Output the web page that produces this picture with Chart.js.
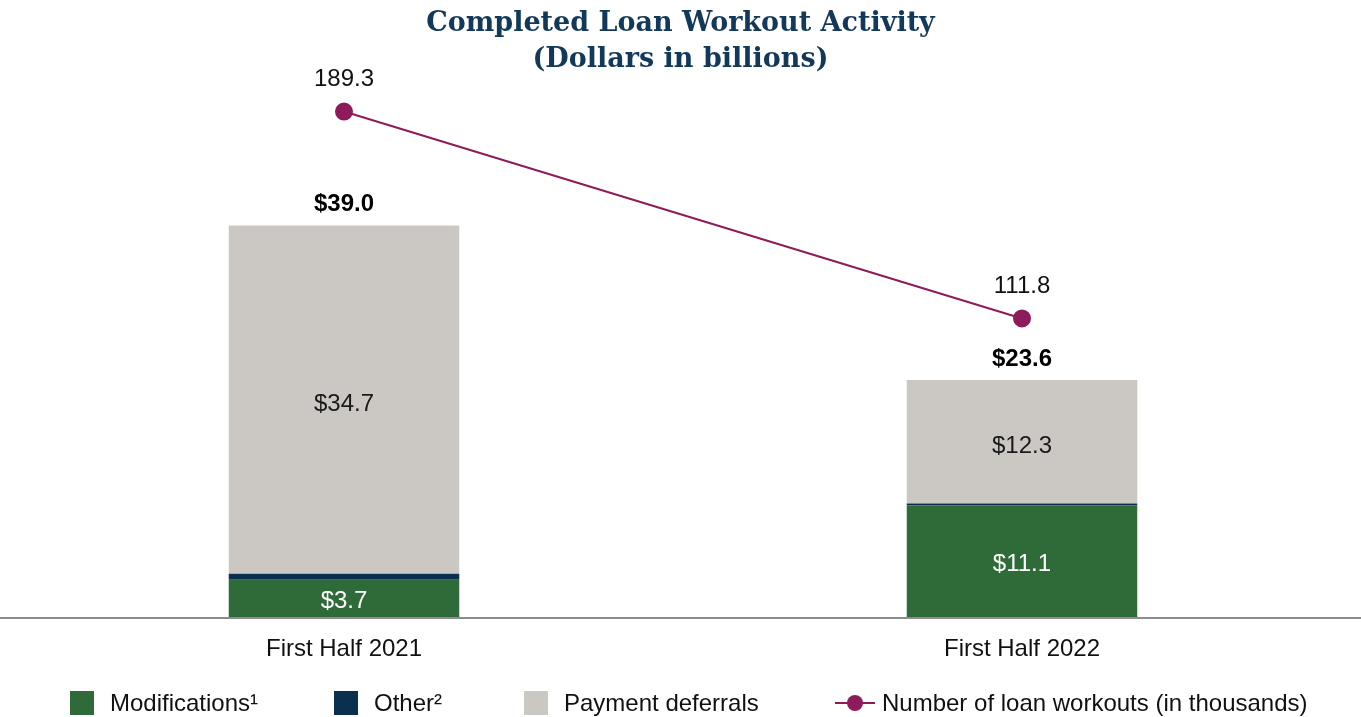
<!DOCTYPE html>
<html lang="en">
<head>
    <meta charset="UTF-8">
    <title>Completed Loan Workout Activity</title>
    <script src="https://cdn.jsdelivr.net/npm/chart.js"></script>
    <style>
        * {
            box-sizing: border-box;
        }
        body {
            margin: 0;
            font-family: "Liberation Sans", Arial, sans-serif;
            background: white;
        }
        .page {
            position: relative;
            width: 1361px;
            height: 717px;
        }
        .title {
            position: absolute;
            top: 4px;
            left: 0;
            width: 100%;
            text-align: center;
            font-family: "DejaVu Serif", Georgia, serif;
            font-weight: bold;
            font-size: 27px;
            line-height: 36px;
            color: #12385a;
        }
        .chart-box {
            position: absolute;
            top: 0;
            left: 0;
            width: 1361px;
            height: 717px;
        }
        .legend-item {
            position: absolute;
            top: 691px;
            height: 24px;
            display: flex;
            align-items: center;
            font-size: 24px;
            color: #111;
        }
        .swatch {
            width: 24px;
            height: 24px;
            margin-right: 16px;
        }
        .line-mark {
            position: relative;
            width: 40px;
            height: 24px;
            margin-right: 7px;
        }
        .line-mark .bar {
            position: absolute;
            left: 0;
            right: 0;
            top: 11px;
            height: 2px;
            background: #8e1b5a;
        }
        .line-mark .dot {
            position: absolute;
            left: 12px;
            top: 4px;
            width: 16px;
            height: 16px;
            border-radius: 50%;
            background: #8e1b5a;
        }
    </style>
</head>
<body>
<div class="page">
    <div class="chart-box">
        <canvas id="workoutChart" width="1361" height="717"></canvas>
    </div>
    <div class="title">Completed Loan Workout Activity<br>(Dollars in billions)</div>

    <div class="legend-item" style="left: 70px;"><span class="swatch" style="background:#2e6b38"></span>Modifications¹</div>
    <div class="legend-item" style="left: 334px;"><span class="swatch" style="background:#0b2f4e"></span>Other²</div>
    <div class="legend-item" style="left: 524px;"><span class="swatch" style="background:#cbc8c3"></span>Payment deferrals</div>
    <div class="legend-item" style="left: 835px;"><span class="line-mark"><span class="bar"></span><span class="dot"></span></span>Number of loan workouts (in thousands)</div>
</div>

<script>
    const periods = ['First Half 2021', 'First Half 2022'];
    const modifications = [3.7, 11.1];
    const other = [0.6, 0.2];
    const paymentDeferrals = [34.7, 12.3];
    const totals = [39.0, 23.6];
    const loanWorkouts = [189.3, 111.8];

    const FONT = '"Liberation Sans", Arial, sans-serif';

    // labels for segments, totals and the line points
    const labelPlugin = {
        id: 'labels',
        afterDatasetsDraw(chart) {
            const ctx = chart.ctx;
            ctx.save();
            ctx.textAlign = 'center';
            ctx.textBaseline = 'middle';

            const modMeta = chart.getDatasetMeta(0);
            const defMeta = chart.getDatasetMeta(2);
            const lineMeta = chart.getDatasetMeta(3);

            modMeta.data.forEach((bar, i) => {
                ctx.font = '24px ' + FONT;
                ctx.fillStyle = '#ffffff';
                ctx.fillText('$' + modifications[i].toFixed(1), bar.x, (bar.y + bar.base) / 2 + 3);
            });
            defMeta.data.forEach((bar, i) => {
                ctx.font = '24px ' + FONT;
                ctx.fillStyle = '#1a1a1a';
                ctx.fillText('$' + paymentDeferrals[i].toFixed(1), bar.x, (bar.y + bar.base) / 2 + 5);
                ctx.font = 'bold 24px ' + FONT;
                ctx.fillStyle = '#000000';
                ctx.fillText('$' + totals[i].toFixed(1), bar.x, bar.y - 21);
            });
            lineMeta.data.forEach((pt, i) => {
                ctx.font = '24px ' + FONT;
                ctx.fillStyle = '#111111';
                ctx.fillText(loanWorkouts[i].toFixed(1), pt.x, pt.y - 32);
            });
            ctx.restore();
        }
    };

    // baseline across the full width
    const baselinePlugin = {
        id: 'baseline',
        beforeDatasetsDraw(chart) {
            const ctx = chart.ctx;
            const y = chart.chartArea.bottom;
            ctx.save();
            ctx.strokeStyle = '#8c8c8c';
            ctx.lineWidth = 2;
            ctx.beginPath();
            ctx.moveTo(0, y + 1);
            ctx.lineTo(chart.width, y + 1);
            ctx.stroke();
            ctx.restore();
        }
    };

    const ctx = document.getElementById('workoutChart').getContext('2d');
    new Chart(ctx, {
        type: 'bar',
        data: {
            labels: periods,
            datasets: [
                {
                    label: 'Modifications¹',
                    data: modifications,
                    backgroundColor: '#2e6b38',
                    yAxisID: 'y',
                    order: 2
                },
                {
                    label: 'Other²',
                    data: other,
                    backgroundColor: '#0b2f4e',
                    yAxisID: 'y',
                    order: 2
                },
                {
                    label: 'Payment deferrals',
                    data: paymentDeferrals,
                    backgroundColor: '#cbc8c3',
                    yAxisID: 'y',
                    order: 2
                },
                {
                    type: 'line',
                    label: 'Number of loan workouts (in thousands)',
                    data: loanWorkouts,
                    borderColor: '#8e1b5a',
                    backgroundColor: '#8e1b5a',
                    borderWidth: 2,
                    pointRadius: 8,
                    pointHoverRadius: 8,
                    yAxisID: 'y1',
                    order: 1
                }
            ]
        },
        options: {
            responsive: false,
            animation: false,
            layout: {
                autoPadding: false,
                padding: {top: 95, left: 5, right: 0, bottom: 40}
            },
            datasets: {
                bar: {
                    categoryPercentage: 1.0,
                    barPercentage: 0.34
                }
            },
            plugins: {
                legend: {display: false},
                tooltip: {enabled: false}
            },
            scales: {
                x: {
                    stacked: true,
                    grid: {display: false, drawTicks: false},
                    border: {display: false},
                    ticks: {
                        color: '#111',
                        padding: 18,
                        font: {family: FONT, size: 24}
                    },
                    afterFit: scale => { scale.height = 60; }
                },
                y: {
                    stacked: true,
                    display: false,
                    min: 0,
                    max: 52
                },
                y1: {
                    display: false,
                    min: 0,
                    max: 195.5
                }
            }
        },
        plugins: [labelPlugin, baselinePlugin]
    });
</script>
</body>
</html>
